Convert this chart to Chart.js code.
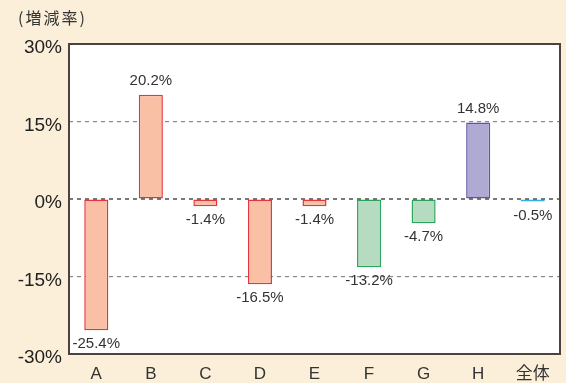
<!DOCTYPE html>
<html>
<head>
<meta charset="utf-8">
<script src="https://cdn.jsdelivr.net/npm/chart.js@4"></script>
<style>
  html, body { margin: 0; padding: 0; background: #fcefd9; }
  #wrap { width: 566px; height: 383px; }
</style>
</head>
<body>
<div id="wrap"><canvas id="rateChart" width="566" height="383"></canvas></div>
<script>
  const categories = ["A", "B", "C", "D", "E", "F", "G", "H", "全体"];
  const rates = [-25.4, 20.2, -1.4, -16.5, -1.4, -13.2, -4.7, 14.8, -0.5];
  const fills = ["#f9c0a6", "#f9c0a6", "#f9c0a6", "#f9c0a6", "#f9c0a6", "#b5dcc1", "#b5dcc1", "#aeaad4", "#cfeaf8"];
  const borders = ["#e8343c", "#e8343c", "#e8343c", "#e8343c", "#e8343c", "#2ba55c", "#2ba55c", "#5b58a2", "#33aee6"];
  const yTicks = [-30, -15, 0, 15, 30];

  const textFont = "'Liberation Sans', Arial, sans-serif";

  // cream page, white plot area, frame and the small unit caption
  const backdrop = {
    id: "backdrop",
    beforeDraw(chart) {
      const { ctx, chartArea: a } = chart;
      ctx.save();
      ctx.fillStyle = "#fcefd9";
      ctx.fillRect(0, 0, chart.width, chart.height);
      ctx.fillStyle = "#ffffff";
      ctx.fillRect(a.left, a.top, a.right - a.left, a.bottom - a.top);
      ctx.fillStyle = "#333";
      ctx.font = "16px 'Noto Sans CJK JP', sans-serif";
      ctx.letterSpacing = "2px";
      ctx.textBaseline = "middle";
      ctx.fillText("(増減率)", 18, 18);
      ctx.letterSpacing = "0px";
      ctx.restore();
    },
    afterDatasetsDraw(chart) {
      const { ctx, chartArea: a } = chart;
      const y0 = chart.scales.y.getPixelForValue(0);
      ctx.save();
      ctx.strokeStyle = "#4d4d4d";
      ctx.lineWidth = 1.5;
      ctx.setLineDash([4, 4]);
      ctx.beginPath();
      ctx.moveTo(a.left, y0);
      ctx.lineTo(a.right, y0);
      ctx.stroke();
      ctx.setLineDash([]);
      ctx.strokeStyle = "#4a4340";
      ctx.lineWidth = 2;
      ctx.strokeRect(a.left, a.top, a.right - a.left, a.bottom - a.top);
      ctx.restore();
    }
  };

  // value text above positive bars and below negative ones
  const valueLabels = {
    id: "valueLabels",
    afterDatasetsDraw(chart) {
      const { ctx } = chart;
      const meta = chart.getDatasetMeta(0);
      ctx.save();
      ctx.font = "15px " + textFont;
      ctx.fillStyle = "#333";
      ctx.textAlign = "center";
      ctx.textBaseline = "middle";
      meta.data.forEach((bar, i) => {
        const v = rates[i];
        const y = v >= 0 ? bar.y - 14 : bar.y + 14;
        ctx.fillText(v.toFixed(1) + "%", bar.x, y);
      });
      ctx.restore();
    }
  };

  new Chart(document.getElementById("rateChart"), {
    type: "bar",
    data: {
      labels: categories,
      datasets: [{
        data: rates,
        backgroundColor: fills,
        borderColor: borders,
        borderWidth: 1.5,
        borderSkipped: false,
        categoryPercentage: 0.9,
        barPercentage: 0.49
      }]
    },
    options: {
      responsive: false,
      animation: false,
      devicePixelRatio: 1,
      layout: { padding: { top: 44, right: 6, left: 0, bottom: 0 } },
      plugins: { legend: { display: false }, tooltip: { enabled: false } },
      scales: {
        x: {
          grid: { display: false, drawTicks: false, tickLength: 0 },
          border: { display: false },
          ticks: { color: "#333", padding: 10, font: { size: 17, family: "'Liberation Sans', 'Noto Sans CJK JP', sans-serif" } },
          afterFit(scale) { scale.height = 29; }
        },
        y: {
          min: -30,
          max: 30,
          afterBuildTicks(scale) { scale.ticks = yTicks.map(v => ({ value: v })); },
          grid: {
            color: ctx => (ctx.tick && Math.abs(ctx.tick.value) === 15) ? "#888" : "rgba(0,0,0,0)",
            lineWidth: 1.2,
            drawTicks: false
          },
          border: { display: false, dash: [4, 4] },
          ticks: {
            color: "#222",
            padding: 7,
            labelOffset: 4,
            font: { size: 19, family: textFont },
            callback: v => v + "%"
          },
          afterFit(scale) { scale.width = 69; }
        }
      }
    },
    plugins: [backdrop, valueLabels]
  });
</script>
</body>
</html>
